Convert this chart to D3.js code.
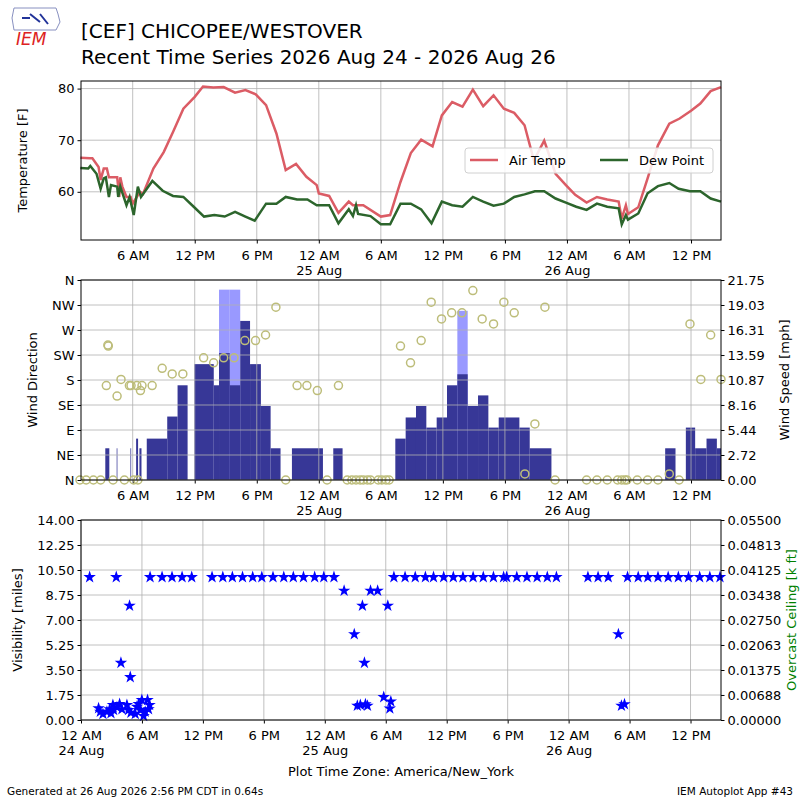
<!DOCTYPE html>
<html><head><meta charset="utf-8">
<script src="https://cdn.jsdelivr.net/npm/d3@7"></script>
<style>body{margin:0;background:#fff}text{font-family:"DejaVu Sans",sans-serif}</style>
</head><body><div id="chart"></div>
<script>
// hours since 2026-08-24 00:00 America/New_York
let tmpfHours = [0.94,1.87,2.1,2.7,2.9,3.2,3.5,3.7,4.5,4.7,4.8,5.0,5.4,5.8,6.0,6.7,7.0,8.0,9.0,9.9,10.9,12.0,12.8,13.8,14.8,15.9,16.9,17.9,18.9,19.9,20.8,21.8,22.8,23.8,24.0,25.0,25.9,26.9,27.3,27.7,28.3,30.0,30.9,31.9,32.9,33.9,35.0,35.9,36.9,37.9,38.9,39.9,40.9,41.9,42.9,43.9,44.8,45.8,46.9,47.9,48.8,49.9,50.9,51.9,53.0,53.3,53.7,53.9,54.9,55.8,56.8,57.9,58.9,60.0,60.9,61.9,62.9];
let tmpf = [66.6,66.5,66.5,64.8,62.3,64.5,64.5,62.8,62.8,59,62.8,61,59,59,57.7,60,59.6,64.5,67.7,71.6,76.1,78.4,80.4,80.2,80.3,79.2,79.7,78.9,76.8,71.3,64.2,65.4,62.9,61.3,59.7,59.2,55.9,58.1,57.4,57.4,57.4,55.2,55.5,61.9,67.5,70.1,68.8,74.8,77.4,76.5,79.8,76.6,78.7,76.1,75.3,72.9,66.1,69.9,63.5,61.3,59.4,57.9,59,58.5,58.1,54.8,57.4,55.7,57,62.6,69,73.2,74.2,75.7,77.1,79.5,80.3];
let dwpfHours = [0.94,1.7,1.9,2.5,2.9,3.2,3.4,3.7,3.9,4.5,4.6,4.8,5.4,5.7,6.1,6.5,6.8,7.9,8.9,9.9,10.9,11.9,12.9,13.9,14.9,15.9,16.9,17.8,18.9,19.9,20.8,21.9,22.9,23.8,25.0,25.9,26.9,27.3,27.6,27.8,29.0,30.0,30.9,31.9,32.9,33.9,34.9,35.9,36.9,37.9,38.9,39.9,40.9,41.9,42.9,43.9,44.9,45.8,46.9,47.9,48.9,49.9,50.9,51.9,53.0,53.3,53.7,53.9,54.9,55.8,56.8,57.9,58.8,59.9,60.9,61.9,62.9];
let dwpf = [64.6,64.5,65,63.5,60.6,62.6,62.8,59,61.3,61,59,61,57.4,59,55.5,61,59,62.1,60.2,59.2,59,57.1,55.2,55.5,55.2,56.1,55.2,54.4,57.7,57.7,59,58.5,58.5,57.4,57.4,53.9,56.6,55.3,57.4,55.7,55.3,53.7,53.7,57.7,57.7,56.6,53.9,58.1,57.4,57.1,59,58.1,57.3,57.7,59,59.5,60.1,60.1,58.7,57.9,57.1,56.5,57.7,57.1,56.8,53.7,55.5,54.6,55.8,59.7,61.1,61.7,60.6,60.1,60.1,58.7,58.1];

// wind speed bars: start hour, end hour, speed [mph]
let sknStart = [3.35,4.45,5.78,6.33,6.65,7.36,9.34,10.34,11.96,13.84,14.35,15.39,16.4,17.35,18.4,19.34,21.4,25.4,31.4,32.4,33.4,34.4,35.4,36.4,37.4,38.4,39.4,40.4,41.4,43.4,44.4,57.5,59.5,60.4,61.5,62.5];
let sknEnd   = [3.74,4.52,5.85,6.52,6.85,9.34,10.34,11.31,13.84,14.35,15.39,16.4,17.35,18.4,19.34,20.3,24.4,26.3,32.4,33.4,34.4,35.4,36.4,37.4,38.4,39.4,40.4,41.4,43.4,44.4,46.5,58.5,60.4,61.5,62.5,63.0];
let sknt     = [3.45,3.45,3.45,4.5,3.45,4.5,6.9,10.3,12.6,10.3,13.8,10.3,17.3,12.6,8.05,3.45,3.45,3.45,4.5,6.8,8.05,5.7,6.8,10.3,11.5,8.05,9.2,5.7,6.8,5.7,3.45,3.45,5.7,3.45,4.5,3.45];
let gustStart = [14.35,15.39,37.4];
let gustEnd   = [15.39,16.4,38.4];
let gust      = [20.7,20.7,18.4];

// wind direction
let drctHours = [0.9,1.5,2.2,2.9,3.45,3.6,3.64,4.1,4.49,4.87,5.2,5.68,5.84,6.1,6.4,6.5,6.75,6.9,7.88,8.85,9.82,10.85,12.86,13.83,14.8,15.8,16.85,17.88,18.85,19.85,20.8,21.9,22.85,23.86,24.8,25.9,26.75,27.2,27.6,28.0,28.3,28.7,29.0,29.75,30.1,30.5,30.8,31.9,32.87,33.9,34.87,35.87,36.85,37.85,38.9,39.8,40.9,41.9,42.9,43.93,44.9,45.87,46.85,49.9,50.9,51.9,52.9,53.3,53.6,53.8,54.8,55.8,56.8,57.9,58.85,59.9,60.95,61.9,62.9];
let drct = [0,0,0,0,170,243,241,0,151,181,0,170,170,0,170,0,161,170,170,201,191,191,220,211,220,220,251,251,261,311,0,170,170,161,0,170,0,0,0,0,0,0,0,0,0,0,0,241,211,251,320,290,301,301,341,290,281,320,301,11,101,311,0,0,0,0,0,0,0,0,0,0,0,11,0,281,181,261,181];

// visibility
let visHours = [0.85,1.73,1.9,2.16,2.55,2.82,2.95,3.14,3.21,3.47,3.54,3.8,3.93,4.03,4.52,4.68,4.78,4.85,4.91,5.34,5.5,5.67,5.83,5.99,6.16,6.32,6.55,6.65,6.75,6.8,7.98,8.96,9.95,10.9,12.9,13.96,14.9,15.9,16.9,17.8,18.9,19.96,20.9,21.9,23.0,23.9,24.9,25.9,26.9,27.2,27.5,27.7,27.9,28.0,28.2,28.5,29.2,29.8,30.2,30.4,30.5,30.8,31.9,32.9,33.9,34.7,35.7,36.65,37.6,38.6,39.6,40.6,41.6,41.9,42.9,43.9,44.9,45.9,46.8,49.9,50.9,51.9,52.9,53.2,53.5,53.8,54.85,55.8,56.8,57.8,58.8,59.8,60.9,61.9,62.9];
let vism = [10,0.82,0.58,0.42,0.58,0.75,0.47,1.05,0.7,10,0.89,1.12,4.0,0.75,1.05,0.7,8.0,3.0,0.51,0.42,0.93,1.12,0.7,1.4,0.28,0.58,1.4,0.75,1.05,10,10,10,10,10,10,10,10,10,10,10,10,10,10,10,10,10,10,9.05,6.0,1.0,1.05,8.0,4.0,1.1,1.0,9.05,9.05,1.6,8.0,0.8,1.3,10,10,10,10,10,10,10,10,10,10,10,10,10,10,10,10,10,10,10,10,10,6.0,1.0,1.1,10,10,10,10,10,10,10,10,10,10];

let xTicks6 = [6,12,18,24,30,36,42,48,54,60];
let xTicksAll = [0,6,12,18,24,30,36,42,48,54,60];
let dirLabels = ["N","NE","E","SE","S","SW","W","NW","N"];
let spdTicks = [0,2.72,5.44,8.16,10.87,13.59,16.31,19.03,21.75];
let visTicks = [0,1.75,3.5,5.25,7,8.75,10.5,12.25,14];
let ceilTicks = [0,0.00688,0.01375,0.02063,0.0275,0.03438,0.04125,0.04813,0.055];

const W = 800, H = 800, L = 81, R = 721;
const svg = d3.select("#chart").append("svg").attr("width", W).attr("height", H);

function fmtHour(h) {
  let hh = h % 24;
  if (hh === 0) return "12 AM";
  if (hh === 12) return "12 PM";
  return hh < 12 ? hh + " AM" : (hh - 12) + " PM";
}
function dayLabel(h) { return (24 + Math.floor(h / 24)) + " Aug"; }

function xAxis(g, x, ticks, y0) {
  g.selectAll("line.gx").data(ticks).join("line")
    .attr("x1", d => x(d)).attr("x2", d => x(d))
    .attr("y1", y0[0]).attr("y2", y0[1]).attr("stroke", "#b0b0b0").attr("stroke-width", 0.8);
  const ax = g.append("g").attr("transform", "translate(0," + y0[1] + ")")
    .call(d3.axisBottom(x).tickValues(ticks).tickSize(3.5).tickFormat(fmtHour));
  ax.select(".domain").remove();
  ax.selectAll("text").attr("font-size", 13).attr("fill", "#000").attr("dy", "1em");
  ax.selectAll(".tick").filter(d => d % 24 === 0).append("text")
    .attr("y", 6.5).attr("dy", "2.2em").attr("text-anchor", "middle").attr("font-size", 13)
    .attr("fill", "#000").text(d => dayLabel(d));
}
function yGrid(g, y, ticks) {
  g.selectAll("line.gy").data(ticks).join("line")
    .attr("x1", L).attr("x2", R).attr("y1", d => y(d)).attr("y2", d => y(d))
    .attr("stroke", "#b0b0b0").attr("stroke-width", 0.8);
}
function frame(top, bot) {
  svg.append("rect").attr("x", L).attr("y", top).attr("width", R - L).attr("height", bot - top)
    .attr("fill", "none").attr("stroke", "#000").attr("stroke-width", 1);
}
function styleY(ax) {
  ax.select(".domain").remove();
  ax.selectAll("text").attr("font-size", 13).attr("fill", "#000");
}
function ylabel(x, y, t, color) {
  svg.append("text").attr("transform", "translate(" + x + "," + y + ") rotate(-90)")
    .attr("text-anchor", "middle").attr("font-size", 13).attr("fill", color || "#000").text(t);
}

// header logo
const logo = svg.append("g");
logo.append("path").attr("d", "M14,8 L56,8 L58,14 L60,22 L56,30 L14,30 L12,18 Z").attr("fill", "none")
  .attr("stroke", "#8890c0").attr("stroke-width", 1);
logo.append("path").attr("d", "M30,14 L40,22 M40,14 L48,24 M22,18 L30,18").attr("stroke", "#223399").attr("stroke-width", 2);
logo.append("text").attr("x", 16).attr("y", 45).attr("font-family", "Liberation Serif")
  .attr("font-style", "italic").attr("font-size", 17).attr("fill", "#d22").text("IEM");
svg.append("text").attr("x", 81).attr("y", 38).attr("font-size", 20).text("[CEF] CHICOPEE/WESTOVER");
svg.append("text").attr("x", 81).attr("y", 64).attr("font-size", 20).text("Recent Time Series 2026 Aug 24 - 2026 Aug 26");

// panel 1: temperature
{
  const top = 81, bot = 240;
  const x = d3.scaleLinear().domain([1, 62.9]).range([L, R]);
  const y = d3.scaleLinear().domain([50.66, 81.47]).range([bot, top]);
  const g = svg.append("g");
  xAxis(g, x, xTicks6, [top, bot]);
  yGrid(g, y, [60, 70, 80]);
  const ay = g.append("g").attr("transform", "translate(" + L + ",0)")
    .call(d3.axisLeft(y).tickValues([60, 70, 80]).tickSize(3.5));
  styleY(ay);
  const line = d3.line().x(d => x(d[0])).y(d => y(d[1]));
  g.append("path").attr("d", line(d3.zip(tmpfHours, tmpf))).attr("fill", "none")
    .attr("stroke", "#db5c65").attr("stroke-width", 2.5);
  g.append("path").attr("d", line(d3.zip(dwpfHours, dwpf))).attr("fill", "none")
    .attr("stroke", "#2c652c").attr("stroke-width", 2.5);
  frame(top, bot);
  ylabel(27, (top + bot) / 2, "Temperature [F]");
  const lg = g.append("g").attr("transform", "translate(465,148)");
  lg.append("rect").attr("width", 248).attr("height", 25).attr("rx", 3).attr("fill", "#fff")
    .attr("fill-opacity", 0.85).attr("stroke", "#d0d0d0");
  lg.append("line").attr("x1", 5).attr("x2", 33).attr("y1", 12).attr("y2", 12).attr("stroke", "#db5c65").attr("stroke-width", 2.5);
  lg.append("text").attr("x", 44).attr("y", 17).attr("font-size", 13).text("Air Temp");
  lg.append("line").attr("x1", 135).attr("x2", 163).attr("y1", 12).attr("y2", 12).attr("stroke", "#2c652c").attr("stroke-width", 2.5);
  lg.append("text").attr("x", 174).attr("y", 17).attr("font-size", 13).text("Dew Point");
}

// panel 2: wind
{
  const top = 280, bot = 480;
  const x = d3.scaleLinear().domain([1, 62.9]).range([L, R]);
  const yd = d3.scaleLinear().domain([0, 360]).range([bot, top]);
  const ys = d3.scaleLinear().domain([0, 21.75]).range([bot, top]);
  const g = svg.append("g");
  svg.append("clipPath").attr("id", "c2").append("rect")
    .attr("x", L).attr("y", top).attr("width", R - L).attr("height", bot - top);
  svg.append("clipPath").attr("id", "c2b").append("rect")
    .attr("x", L - 6).attr("y", top - 6).attr("width", R - L + 12).attr("height", bot - top + 12);
  const gb = g.append("g").attr("clip-path", "url(#c2)");
  gb.selectAll("rect.gust").data(d3.range(gust.length)).join("rect")
    .attr("x", i => x(gustStart[i])).attr("width", i => x(gustEnd[i]) - x(gustStart[i]))
    .attr("y", i => ys(gust[i])).attr("height", i => bot - ys(gust[i])).attr("fill", "#9999ff");
  gb.selectAll("rect.skn").data(d3.range(sknt.length)).join("rect")
    .attr("x", i => x(sknStart[i])).attr("width", i => x(sknEnd[i]) - x(sknStart[i]))
    .attr("y", i => ys(sknt[i])).attr("height", i => bot - ys(sknt[i])).attr("fill", "#373797");
  xAxis(g, x, xTicks6, [top, bot]);
  yGrid(g, yd, d3.range(0, 361, 45));
  const ay = g.append("g").attr("transform", "translate(" + L + ",0)")
    .call(d3.axisLeft(yd).tickValues(d3.range(0, 361, 45)).tickSize(3.5).tickFormat((d, i) => dirLabels[i]));
  styleY(ay);
  const ar = g.append("g").attr("transform", "translate(" + R + ",0)")
    .call(d3.axisRight(ys).tickValues(spdTicks).tickSize(3.5).tickFormat(d3.format(".2f")));
  styleY(ar);
  g.append("g").attr("clip-path", "url(#c2b)").selectAll("circle").data(d3.range(drct.length)).join("circle")
    .attr("cx", i => x(drctHours[i])).attr("cy", i => yd(drct[i])).attr("r", 4)
    .attr("fill", "none").attr("stroke", "#bdbd7a").attr("stroke-width", 1.5);
  frame(top, bot);
  ylabel(37, (top + bot) / 2, "Wind Direction");
  ylabel(789, (top + bot) / 2, "Wind Speed [mph]");
}

// panel 3: visibility
{
  const top = 520, bot = 720;
  const x = d3.scaleLinear().domain([0, 63]).range([L, R]);
  const y = d3.scaleLinear().domain([0, 14]).range([bot, top]);
  const yc = d3.scaleLinear().domain([0, 0.055]).range([bot, top]);
  const g = svg.append("g");
  xAxis(g, x, xTicksAll, [top, bot]);
  yGrid(g, y, visTicks);
  const ay = g.append("g").attr("transform", "translate(" + L + ",0)")
    .call(d3.axisLeft(y).tickValues(visTicks).tickSize(3.5).tickFormat(d3.format(".2f")));
  styleY(ay);
  const ar = g.append("g").attr("transform", "translate(" + R + ",0)")
    .call(d3.axisRight(yc).tickValues(ceilTicks).tickSize(3.5).tickFormat(d3.format(".5f")));
  styleY(ar);
  const star = d3.symbol().type(d3.symbolStar).size(48);
  g.selectAll("path.vis").data(d3.range(vism.length)).join("path")
    .attr("d", star).attr("transform", i => "translate(" + x(visHours[i]) + "," + y(vism[i]) + ")")
    .attr("fill", "#0000ff");
  frame(top, bot);
  ylabel(22, (top + bot) / 2, "Visibility [miles]");
  ylabel(796, 620, "Overcast Ceiling [k ft]", "#008000");
  svg.append("text").attr("x", (L + R) / 2).attr("y", 776).attr("text-anchor", "middle")
    .attr("font-size", 13).text("Plot Time Zone: America/New_York");
}

svg.append("text").attr("x", 7).attr("y", 795).attr("font-size", 10.5).text("Generated at 26 Aug 2026 2:56 PM CDT in 0.64s");
svg.append("text").attr("x", 793).attr("y", 795).attr("text-anchor", "end").attr("font-size", 10.5).text("IEM Autoplot App #43");
</script></body></html>
